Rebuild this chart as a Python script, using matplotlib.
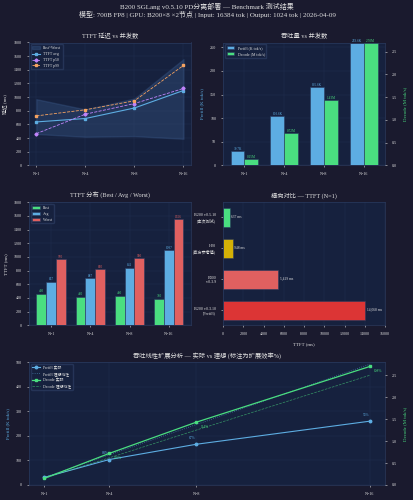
import numpy as np
import matplotlib
matplotlib.use("Agg")
import matplotlib.pyplot as plt

plt.rcParams['font.family'] = ['Liberation Serif', 'Noto Sans CJK SC', 'DejaVu Sans']
plt.rcParams['font.size'] = 3.5

BG = '#1a1a2e'
AX = '#16213e'
TXT = '#e0e0e0'
BLUE = '#5dade2'
GREEN = '#4ade80'
PURPLE = '#c084fc'
ORANGE = '#f4a261'
RED = '#e06060'

conc = ['N=1', 'N=4', 'N=8', 'N=16']
n_vals = [1, 4, 8, 16]
ttft_avg = [637, 687, 841, 1097]
ttft_p50 = [465, 750, 906, 1127]
ttft_p99 = [725, 815, 946, 1464]
ttft_best = [460, 420, 430, 390]
ttft_worst = [970, 820, 980, 1556]
prefill_tps = [30.7, 103.6, 165.6, 259.6]
decode_tps = [0.15, 0.72, 1.43, 2.70]
prefill_ideal = [30.7, 122.8, 245.6, 491.2]
decode_ideal = [0.15, 0.62, 1.25, 2.50]
cmp_labels = ['B200 v0.3.10\n(Prefill)', 'B300\nv0.3.9', 'H20\n(官方参考值)', 'B200 v0.5.10\n(本次测试)']
cmp_vals = [14068, 5419, 948, 637]
cmp_colors = ['#dc3535', RED, '#d4b106', GREEN]
pf_eff = ['', '84%', '67%', '53%']
dc_eff = ['', '116%', '114%', '108%']


def style(ax, title):
    ax.set_facecolor(AX)
    ax.set_title(title, color=TXT, fontsize=4.5, pad=3)
    ax.tick_params(colors=TXT, labelsize=3, length=1.5, width=0.4)
    for s in ax.spines.values():
        s.set_color('#2a3a5e')
        s.set_linewidth(0.5)
    ax.grid(True, color='#2a3a5e', linewidth=0.3, alpha=0.6)
    ax.set_axisbelow(True)


fig = plt.figure(figsize=(4.14, 5), dpi=100, facecolor=BG)
fig.suptitle('B200 SGLang v0.5.10 PD分离部署 — Benchmark 测试结果\n'
             '模型: 700B FP8 | GPU: B200×8 ×2节点 | Input: 16384 tok | Output: 1024 tok | 2026-04-09',
             color=TXT, fontsize=5, y=0.995)
gs = fig.add_gridspec(3, 2, left=0.07, right=0.93, top=0.915, bottom=0.03, hspace=0.3, wspace=0.2)
x = np.arange(len(conc))

# TTFT lines
ax1 = fig.add_subplot(gs[0, 0])
style(ax1, 'TTFT 延迟 vs 并发数')
ax1.fill_between(x, ttft_best, ttft_worst, color='#3b5b8c', alpha=0.35, label='Best~Worst')
ax1.plot(x, ttft_avg, '-s', color=BLUE, lw=0.8, ms=1.8, label='TTFT avg')
ax1.plot(x, ttft_p50, '--D', color=PURPLE, lw=0.6, ms=1.6, label='TTFT p50')
ax1.plot(x, ttft_p99, '--s', color=ORANGE, lw=0.6, ms=1.6, label='TTFT p99')
ax1.set_xticks(x, conc)
ax1.set_ylim(0, 1800)
ax1.set_yticks(range(0, 1801, 200))
ax1.set_ylabel('延迟 (ms)', color=TXT, fontsize=3.5)
ax1.legend(loc='upper left', fontsize=2.8, facecolor=AX, edgecolor='#2a3a5e', labelcolor=TXT)

# throughput bars
ax2 = fig.add_subplot(gs[0, 1])
style(ax2, '吞吐量 vs 并发数')
w = 0.35
b1 = ax2.bar(x - w / 2, prefill_tps, w, color=BLUE, edgecolor='#2a3a5e', lw=0.4, label='Prefill (K tok/s)')
ax2b = ax2.twinx()
b2 = ax2b.bar(x + w / 2, decode_tps, w, color=GREEN, edgecolor='#2a3a5e', lw=0.4, label='Decode (M tok/s)')
ax2.set_ylim(0, 260)
ax2b.set_ylim(0, 2.7)
ax2b.tick_params(colors=TXT, labelsize=3, length=1.5, width=0.4)
for s in ax2b.spines.values():
    s.set_visible(False)
for r, v in zip(b1, prefill_tps):
    ax2.text(r.get_x() + r.get_width() / 2, v + 2, f'{v:.1f}K', ha='center', fontsize=2.4, color=BLUE)
for r, v in zip(b2, decode_tps):
    ax2b.text(r.get_x() + r.get_width() / 2, v + 0.02, f'{v:.2f}M', ha='center', fontsize=2.4, color=GREEN)
ax2.set_xticks(x, conc)
ax2.set_ylabel('Prefill (K tok/s)', color=BLUE, fontsize=3.5)
ax2b.set_ylabel('Decode (M tok/s)', color=GREEN, fontsize=3.5)
ax2.legend([b1, b2], [b1.get_label(), b2.get_label()], loc='upper left', fontsize=2.8,
           facecolor=AX, edgecolor='#2a3a5e', labelcolor=TXT)

# TTFT distribution
ax3 = fig.add_subplot(gs[1, 0])
style(ax3, 'TTFT 分布 (Best / Avg / Worst)')
w = 0.25
for off, vals, c, lab in [(-w, ttft_best, GREEN, 'Best'), (0, ttft_avg, BLUE, 'Avg'), (w, ttft_worst, RED, 'Worst')]:
    bars = ax3.bar(x + off, vals, w, color=c, edgecolor='#2a3a5e', lw=0.4, label=lab)
    for r, v in zip(bars, vals):
        ax3.text(r.get_x() + r.get_width() / 2, v + 20, f'{v}', ha='center', fontsize=2.4, color=c)
ax3.set_xticks(x, conc)
ax3.set_ylim(0, 1800)
ax3.set_yticks(range(0, 1801, 200))
ax3.set_ylabel('TTFT (ms)', color=TXT, fontsize=3.5)
ax3.legend(loc='upper left', fontsize=2.8, facecolor=AX, edgecolor='#2a3a5e', labelcolor=TXT)

# comparison
ax4 = fig.add_subplot(gs[1, 1])
style(ax4, '横向对比 — TTFT (N=1)')
yy = np.arange(len(cmp_labels))
ax4.barh(yy, cmp_vals, 0.6, color=cmp_colors, edgecolor='#2a3a5e', lw=0.4)
for yv, v in zip(yy, cmp_vals):
    ax4.text(v + 150, yv, f'{v:,} ms', va='center', fontsize=2.6, color=TXT)
ax4.set_yticks(yy, cmp_labels)
ax4.set_xlim(0, 16000)
ax4.set_xticks(range(0, 16001, 2000))
ax4.set_xlabel('TTFT (ms)', color=TXT, fontsize=3.5)
ax4.grid(axis='y', visible=False)

# scaling
ax5 = fig.add_subplot(gs[2, :])
style(ax5, '吞吐线性扩展分析 — 实际 vs 理想 (标注为扩展效率%)')
ax5b = ax5.twinx()
l1, = ax5.plot(n_vals, prefill_tps, '-o', color=BLUE, lw=0.8, ms=1.8, label='Prefill 实际')
l2, = ax5.plot(n_vals, prefill_ideal, ':', color=BLUE, lw=0.6, alpha=0.6, label='Prefill 理想线性')
l3, = ax5b.plot(n_vals, decode_tps, '-s', color=GREEN, lw=0.9, ms=1.8, label='Decode 实际')
l4, = ax5b.plot(n_vals, decode_ideal, '--', color=GREEN, lw=0.5, alpha=0.6, label='Decode 理想线性')
for n, v, t in zip(n_vals, prefill_tps, pf_eff):
    ax5.annotate(t, (n, v), xytext=(-5, 4), textcoords='offset points', fontsize=2.6, color=BLUE)
for n, v, t in zip(n_vals, decode_tps, dc_eff):
    ax5b.annotate(t, (n, v), xytext=(3, -4), textcoords='offset points', fontsize=2.6, color=GREEN)
ax5.set_xticks(n_vals, conc)
ax5.set_xlim(0.3, 16.7)
ax5.set_ylim(0, 500)
ax5b.set_ylim(0, 2.8)
ax5b.tick_params(colors=TXT, labelsize=3, length=1.5, width=0.4)
for s in ax5b.spines.values():
    s.set_visible(False)
ax5.set_ylabel('Prefill (K tok/s)', color=BLUE, fontsize=3.5)
ax5b.set_ylabel('Decode (M tok/s)', color=GREEN, fontsize=3.5)
ax5.legend([l1, l2, l3, l4], [l.get_label() for l in [l1, l2, l3, l4]], loc='upper left', fontsize=2.8,
           facecolor=AX, edgecolor='#2a3a5e', labelcolor=TXT)

fig.savefig('out.png', dpi=100, facecolor=BG)
